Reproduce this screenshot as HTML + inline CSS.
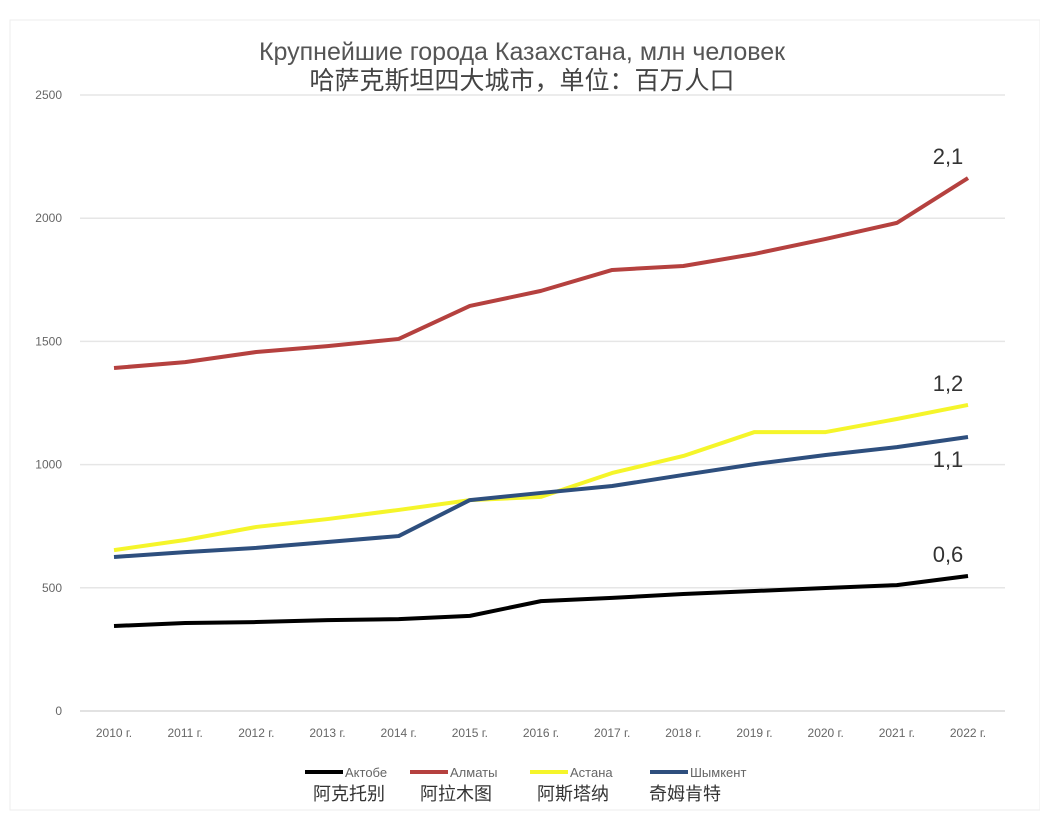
<!DOCTYPE html>
<html><head><meta charset="utf-8"><style>
body{margin:0;background:#fff;}
svg{display:block;font-family:"Liberation Sans","Noto Sans CJK SC",sans-serif;}
</style></head><body>
<svg id="c" width="1040" height="823">
<rect x="10" y="20" width="1030" height="790" fill="#fff" stroke="#eee"/>
<text x="522" y="60" text-anchor="middle" font-size="25" fill="#555">Крупнейшие города Казахстана, млн человек</text>
<text x="522" y="89" text-anchor="middle" font-size="25" fill="#444" font-family="Noto Sans CJK SC,sans-serif">哈萨克斯坦四大城市，单位：百万人口</text>
<g id="grid"></g><g id="ax"></g><g id="lines"></g><g id="ann"></g>
<g id="legend"></g>
</svg>
<script>
const years=["2010 г.","2011 г.","2012 г.","2013 г.","2014 г.","2015 г.","2016 г.","2017 г.","2018 г.","2019 г.","2020 г.","2021 г.","2022 г."];
const yTicks=[0,500,1000,1500,2000,2500];
const aktobe=[345,357,361,369,373,386,446,459,475,487,499,511,548];
const almaty=[1392,1416,1457,1481,1510,1644,1705,1790,1806,1855,1916,1981,2163];
const astana=[653,694,747,779,816,856,869,966,1035,1132,1132,1185,1242];
const shymkent=[625,645,662,686,710,856,885,913,958,1002,1039,1071,1112];
const labels=["0,6","2,1","1,2","1,1"];
const NS="http://www.w3.org/2000/svg";
const x=i=>114+i*(968-114)/(years.length-1);
const y=v=>711-v*(711-95)/2500;
function mk(t,a,p){const e=document.createElementNS(NS,t);for(const k in a)e.setAttribute(k,a[k]);document.getElementById(p).appendChild(e);return e;}
yTicks.forEach(v=>{
 const l=mk('line',{x1:80,x2:1005,y1:y(v),y2:y(v),stroke:v===0?'#d9d9d9':'#e6e6e6','stroke-width':1.5},'grid');
 
 
 const t=mk('text',{x:62,y:y(v)+4,'text-anchor':'end','font-size':12,fill:'#666'},'ax');t.textContent=v;
 
 
});
years.forEach((s,i)=>{const t=mk('text',{x:x(i),y:737,'text-anchor':'middle','font-size':12,fill:'#666'},'ax');t.textContent=s;
 
 });
const series=[["aktobe",aktobe,"#000"],["almaty",almaty,"#b5413f"],["astana",astana,"#f5f52a"],["shymkent",shymkent,"#2e4f7e"]];
series.forEach(([n,d,c],k)=>{
 const p=mk('polyline',{points:d.map((v,i)=>x(i)+','+y(v)).join(' '),fill:'none',stroke:c,'stroke-width':4,'stroke-linejoin':'round'},'lines');
 
 
 const last=d[d.length-1];
 const ty=n==='shymkent'?y(last)+30:y(last)-14;
 const t=mk('text',{x:948,y:ty,'text-anchor':'middle','font-size':22,fill:'#333'},'ann');t.textContent=labels[k];
 
 
});
const names=["Актобе","Алматы","Астана","Шымкент"];
const cn=["阿克托别","阿拉木图","阿斯塔纳","奇姆肯特"];
const lx=[305,410,530,650];
const cnx=[313,420,537,649];
series.forEach(([n,d,c],k)=>{
 const l=mk('line',{x1:lx[k],x2:lx[k]+38,y1:772,y2:772,stroke:c,'stroke-width':4},'legend');
 
 
 const t=mk('text',{x:lx[k]+40,y:777,'font-size':13,fill:'#666'},'legend');t.textContent=names[k];
 
 
 const t2=mk('text',{x:cnx[k],y:800,'font-size':18,fill:'#333'},'legend');t2.textContent=cn[k];
 
 
});
</script>
</body></html>
